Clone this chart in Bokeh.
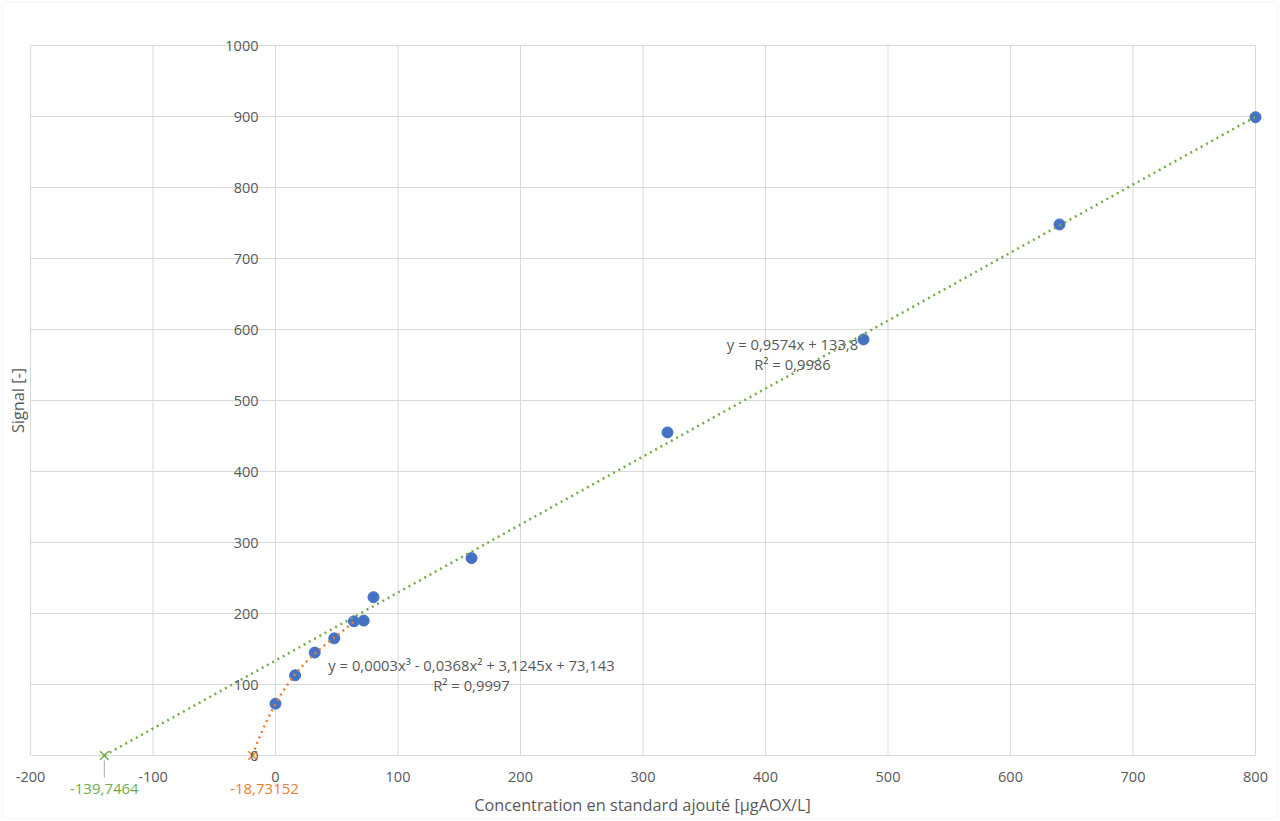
import numpy as np
from bokeh.plotting import figure
from bokeh.models import (ColumnDataSource, LabelSet, Label, Range1d, BoxAnnotation)
from bokeh.core.properties import value
from bokeh.embed import file_html
from bokeh.resources import INLINE

# ---------------- data ----------------
conc = [0, 16, 32, 48, 64, 72, 80, 160, 320, 480, 640, 800]
signal = [73, 113, 145, 165, 189, 190, 223, 278, 455, 586, 748, 899]
lin_coef = [0.9574, 133.8]          # linear trendline (all points)
poly_points = 5                     # cubic trendline uses the first 5 points
intercept_lin = -139.7464
intercept_poly = -18.73152
intercept_lin_label = "-139,7464"
intercept_poly_label = "-18,73152"
eq_lin = ["y = 0,9574x + 133,8", "R\u00b2 = 0,9986"]
eq_poly = ["y = 0,0003x\u00b3 - 0,0368x\u00b2 + 3,1245x + 73,143", "R\u00b2 = 0,9997"]
x_ticks = list(range(-200, 801, 100))
y_ticks = list(range(0, 1001, 100))
x_title = "Concentration en standard ajout\u00e9 [\u00b5gAOX/L]"
y_title = "Signal [-]"

# ---------------- style / layout ----------------
FONT = "Open Sans"
TXT = "#595959"
GRID = "#d9d9d9"
BLUE = "#4472C4"
GREEN = "#70AD47"
ORANGE = "#ED7D31"

# pixel <-> data helpers (x=-200 at px 30, x=800 at px 1255; y=0 at px 755, y=1000 at px 45)
XS = 1225 / 1000.0
YS = 710 / 1000.0
def dx(px):
    return (px - 275) / XS
def dy(py):
    return (755 - py) / YS

W, H = 1280, 821

# the frame covers the whole canvas so that nothing is clipped
p = figure(width=W, height=H,
           x_range=Range1d(dx(0), dx(W)), y_range=Range1d(dy(H), dy(0)),
           x_axis_location=None, y_axis_location=None,
           toolbar_location=None, output_backend="svg",
           min_border_left=0, min_border_right=0, min_border_top=0, min_border_bottom=0)
p.outline_line_color = None
p.xgrid.visible = False
p.ygrid.visible = False
p.background_fill_color = "white"
p.border_fill_color = "white"

# gridlines (limited to the plot area)
p.segment(x0=x_ticks, y0=[y_ticks[0]] * len(x_ticks), x1=x_ticks, y1=[y_ticks[-1]] * len(x_ticks),
          line_color=GRID, line_width=1)
p.segment(x0=[x_ticks[0]] * len(y_ticks), y0=y_ticks, x1=[x_ticks[-1]] * len(y_ticks), y1=y_ticks,
          line_color=GRID, line_width=1)

# data points
p.scatter(conc, signal, size=11, color=BLUE)

# linear trendline
xl = np.linspace(intercept_lin, conc[-1], 300)
p.line(xl, np.polyval(lin_coef, xl), line_color=GREEN, line_width=2.5, line_dash="2 4")

# cubic trendline on the first points
pc = np.polyfit(conc[:poly_points], signal[:poly_points], 3)
xp = np.linspace(intercept_poly, conc[poly_points - 1], 200)
p.line(xp, np.polyval(pc, xp), line_color=ORANGE, line_width=2.5, line_dash="2 4")

# intercept markers
p.scatter([intercept_lin], [0], marker="x", size=12, line_color=GREEN, line_width=1.5)
p.scatter([intercept_poly], [0], marker="x", size=12, line_color=ORANGE, line_width=1.5)

# leader line of green intercept label
p.segment(x0=[intercept_lin], y0=[dy(760)], x1=[intercept_lin], y1=[dy(777)],
          line_color="#a6a6a6", line_width=1)

# tick labels
xs_src = ColumnDataSource(dict(x=x_ticks, y=[dy(776)] * len(x_ticks), t=[str(v) for v in x_ticks]))
p.add_layout(LabelSet(x="x", y="y", text="t", source=xs_src, text_align="center",
                      text_baseline="middle", text_font=value(FONT), text_font_size=value("14.5px"),
                      text_color=TXT))
ys_src = ColumnDataSource(dict(x=[0] * len(y_ticks), y=y_ticks, t=[str(v) for v in y_ticks]))
p.add_layout(LabelSet(x="x", y="y", text="t", source=ys_src, x_offset=-17, text_align="right",
                      text_baseline="middle", text_font=value(FONT), text_font_size=value("14.5px"),
                      text_color=TXT))

def lab(x, y, text, color=TXT, size="14px", angle=0.0):
    p.add_layout(Label(x=x, y=y, text=text, text_align="center", text_baseline="middle",
                       text_font=FONT, text_font_size=size, text_color=color, angle=angle))

# intercept labels
lab(intercept_lin, dy(788), intercept_lin_label, GREEN, size="15px")
lab(dx(264), dy(788), intercept_poly_label, ORANGE, size="15px")

# equations
lab(dx(471), dy(664), eq_poly[0], size="14.8px")
lab(dx(471), dy(684), eq_poly[1], size="14.8px")
lab(dx(792), dy(343), eq_lin[0], size="14.8px")
lab(dx(792), dy(363), eq_lin[1], size="14.8px")

# axis titles
lab(dx(642), dy(804), x_title, size="16.3px")
lab(dx(17), dy(400), y_title, size="16.3px", angle=np.pi / 2)

# outer chart border
p.add_layout(BoxAnnotation(left=dx(1.5), right=dx(1277.5), top=dy(1.5), bottom=dy(818.5),
                           fill_alpha=0, line_color=GRID, line_width=1))

open("out.html", "w").write(file_html(p, INLINE))
